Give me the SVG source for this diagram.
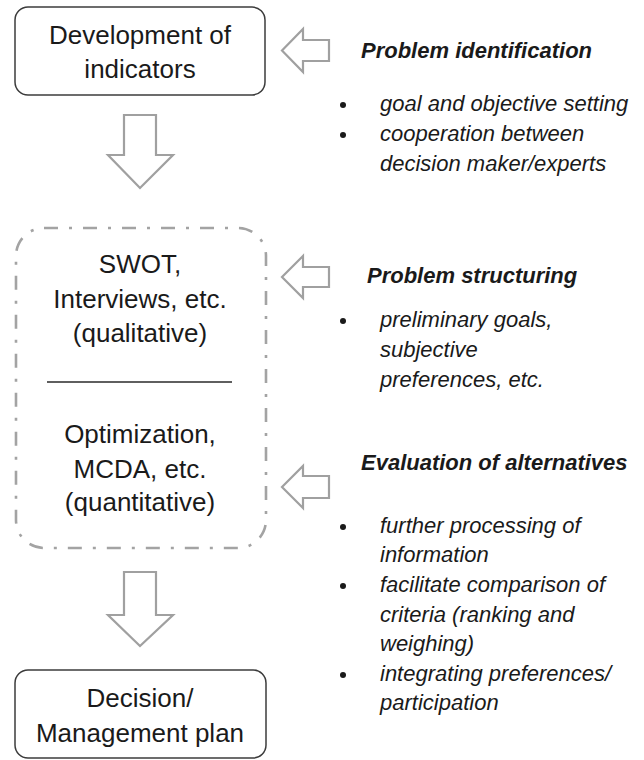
<svg xmlns="http://www.w3.org/2000/svg" width="644" height="760" viewBox="0 0 644 760">
<style>
.box{fill:#fff;stroke:#3c3c3c;stroke-width:1.5}
.dbox{fill:none;stroke:#a3a3a3;stroke-width:2.6;stroke-dasharray:14 11 3 11}
.arr{fill:#fff;stroke:#a0a0a0;stroke-width:2.2;stroke-linejoin:miter}
.nt{font-family:"Liberation Sans",Arial,sans-serif;font-size:26px;fill:#1a1a1a;text-anchor:middle}
.hd{font-family:"Liberation Sans",Arial,sans-serif;font-size:22px;font-weight:bold;font-style:italic;fill:#1a1a1a}
.it{font-family:"Liberation Sans",Arial,sans-serif;font-size:22px;font-style:italic;fill:#1a1a1a}
.bl{fill:#1a1a1a}
</style>
<rect width="644" height="760" fill="#fff"/>
<g id="node-indicators">
<rect class="box" x="15" y="7" width="250" height="88" rx="13"/>
<text class="nt" x="140" y="44">Development of</text>
<text class="nt" x="140" y="78">indicators</text>
</g>
<g id="node-methods">
<rect class="dbox" x="16" y="228" width="250" height="320" rx="28"/>
<text class="nt" x="140" y="273">SWOT,</text>
<text class="nt" x="140" y="308">Interviews, etc.</text>
<text class="nt" x="140" y="342">(qualitative)</text>
<line x1="47" y1="382" x2="232" y2="382" stroke="#2a2a2a" stroke-width="1.3"/>
<text class="nt" x="140" y="443">Optimization,</text>
<text class="nt" x="140" y="478">MCDA, etc.</text>
<text class="nt" x="140" y="511">(quantitative)</text>
</g>
<g id="node-decision">
<rect class="box" x="15" y="670" width="251" height="88" rx="13"/>
<text class="nt" x="140" y="707">Decision/</text>
<text class="nt" x="140" y="742">Management plan</text>
</g>
<g id="connectors">
<path class="arr" d="M124,115 H156 V155 H173 L140,188 L108,155 H124 Z"/>
<path class="arr" d="M124,572 H156 V615 H173 L140,646 L108,615 H124 Z"/>
<path class="arr" d="M282,50.5 L303,29 V40 H329 V61 H303 V72 Z"/>
<path class="arr" d="M282,277 L303,256 V267 H329 V287 H303 V298 Z"/>
<path class="arr" d="M282,487 L303,466 V476 H329 V498 H303 V508 Z"/>
</g>
<g id="note-identification">
<text class="hd" x="361" y="58">Problem identification</text>
<circle class="bl" cx="343" cy="105" r="3"/>
<text class="it" x="380" y="111">goal and objective setting</text>
<circle class="bl" cx="343" cy="135" r="3"/>
<text class="it" x="380" y="141">cooperation between</text>
<text class="it" x="380" y="171">decision maker/experts</text>
</g>
<g id="note-structuring">
<text class="hd" x="367" y="283">Problem structuring</text>
<circle class="bl" cx="343" cy="321" r="3"/>
<text class="it" x="380" y="327">preliminary goals,</text>
<text class="it" x="380" y="357">subjective</text>
<text class="it" x="380" y="387">preferences, etc.</text>
</g>
<g id="note-evaluation">
<text class="hd" x="361" y="470">Evaluation of alternatives</text>
<circle class="bl" cx="343" cy="527" r="3"/>
<text class="it" x="380" y="533">further processing of</text>
<text class="it" x="380" y="562">information</text>
<circle class="bl" cx="343" cy="586" r="3"/>
<text class="it" x="380" y="592">facilitate comparison of</text>
<text class="it" x="380" y="622">criteria (ranking and</text>
<text class="it" x="380" y="651">weighing)</text>
<circle class="bl" cx="343" cy="675" r="3"/>
<text class="it" x="380" y="681">integrating preferences/</text>
<text class="it" x="380" y="710">participation</text>
</g>
</svg>
